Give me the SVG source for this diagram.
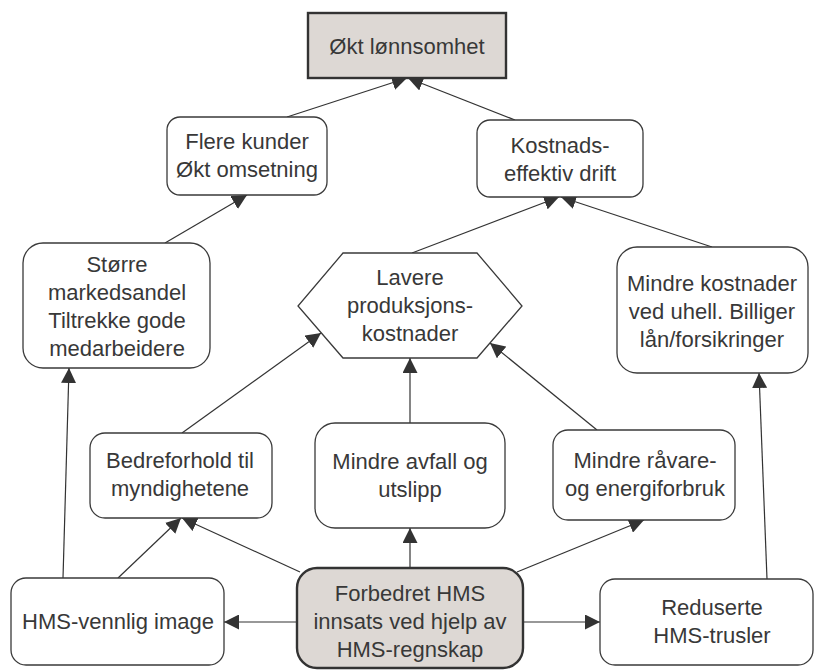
<svg xmlns="http://www.w3.org/2000/svg" width="815" height="670" viewBox="0 0 815 670">
  <style>
    .box { fill: #ffffff; stroke: #3a3a3a; stroke-width: 1.3; }
    .key { fill: #ddd8d4; stroke: #333333; stroke-width: 2.4; }
    .link { fill: none; stroke: #333333; stroke-width: 1.2; }
    .arrow { marker-end: url(#head); }
    text { font-family: "Liberation Sans", Arial, Helvetica, sans-serif; font-size: 22px; fill: #383838; text-anchor: middle; }
  </style>
  <defs>
    <marker id="head" viewBox="0 0 15 15" refX="15" refY="7.5" markerWidth="15" markerHeight="15" markerUnits="userSpaceOnUse" orient="auto">
      <path d="M0,0 L15,7.5 L0,15 z" fill="#333333"/>
    </marker>
  </defs>
  <rect width="815" height="670" fill="#ffffff"/>

  <!-- connectors (drawn first so the node outlines sit on top) -->
  <g id="connectors">
    <line class="link arrow" x1="287" y1="117" x2="407" y2="78"/>
    <line class="link arrow" x1="515" y1="120" x2="408" y2="78"/>
    <line class="link arrow" x1="165" y1="243" x2="247" y2="195"/>
    <line class="link arrow" x1="412" y1="253" x2="559" y2="197"/>
    <line class="link arrow" x1="712" y1="247" x2="561" y2="197"/>
    <line class="link arrow" x1="63" y1="578" x2="69" y2="368"/>
    <line class="link arrow" x1="182" y1="433" x2="321" y2="333"/>
    <line class="link arrow" x1="410" y1="423" x2="410" y2="358"/>
    <line class="link arrow" x1="597" y1="430" x2="490" y2="343"/>
    <line class="link arrow" x1="767" y1="579" x2="759" y2="373"/>
    <line class="link arrow" x1="118" y1="578" x2="181" y2="518"/>
    <line class="link arrow" x1="300" y1="572" x2="182" y2="518"/>
    <line class="link arrow" x1="410" y1="568" x2="410" y2="528"/>
    <line class="link arrow" x1="517" y1="572" x2="644" y2="520"/>
    <line class="link arrow" x1="297" y1="622" x2="224" y2="622"/>
    <line class="link arrow" x1="523" y1="622" x2="600" y2="622"/>
  </g>

  <g id="okt-lonnsomhet">
    <rect class="key" x="308" y="13" width="198" height="65"/>
    <text x="407" y="54">Økt lønnsomhet</text>
  </g>

  <g id="flere-kunder">
    <rect class="box" x="167" y="117" width="160" height="78" rx="13"/>
    <text x="247" y="149">Flere kunder</text>
    <text x="247" y="177">Økt omsetning</text>
  </g>

  <g id="kostnadseffektiv">
    <rect class="box" x="477" y="120" width="166" height="77" rx="13"/>
    <text x="560" y="153">Kostnads-</text>
    <text x="560" y="181">effektiv drift</text>
  </g>

  <g id="markedsandel">
    <rect class="box" x="23" y="243" width="187" height="125" rx="20"/>
    <text x="117" y="272">Større</text>
    <text x="117" y="300">markedsandel</text>
    <text x="117" y="328">Tiltrekke gode</text>
    <text x="117" y="356">medarbeidere</text>
  </g>

  <g id="produksjonskostnader">
    <polygon class="box" points="343,253 477,253 522,306 477,358 343,358 298,306"/>
    <text x="410" y="285">Lavere</text>
    <text x="410" y="313">produksjons-</text>
    <text x="410" y="341">kostnader</text>
  </g>

  <g id="uhellskostnader">
    <rect class="box" x="617" y="247" width="191" height="126" rx="20"/>
    <text x="712" y="291">Mindre kostnader</text>
    <text x="712" y="319">ved uhell. Billiger</text>
    <text x="712" y="347">lån/forsikringer</text>
  </g>

  <g id="myndighetene">
    <rect class="box" x="90" y="433" width="182" height="85" rx="15"/>
    <text x="180" y="468">Bedreforhold til</text>
    <text x="180" y="496">myndighetene</text>
  </g>

  <g id="avfall-utslipp">
    <rect class="box" x="315" y="423" width="190" height="105" rx="20"/>
    <text x="410" y="469">Mindre avfall og</text>
    <text x="410" y="497">utslipp</text>
  </g>

  <g id="ravare-energi">
    <rect class="box" x="553" y="430" width="182" height="90" rx="15"/>
    <text x="645" y="468">Mindre råvare-</text>
    <text x="645" y="496">og energiforbruk</text>
  </g>

  <g id="hms-image">
    <rect class="box" x="11" y="578" width="213" height="87" rx="15"/>
    <text x="118" y="629">HMS-vennlig image</text>
  </g>

  <g id="hms-regnskap">
    <rect class="key" x="297" y="568" width="226" height="100" rx="20"/>
    <text x="410" y="601">Forbedret HMS</text>
    <text x="410" y="629">innsats ved hjelp av</text>
    <text x="410" y="657">HMS-regnskap</text>
  </g>

  <g id="hms-trusler">
    <rect class="box" x="600" y="579" width="213" height="86" rx="15"/>
    <text x="712" y="615">Reduserte</text>
    <text x="712" y="643">HMS-trusler</text>
  </g>
</svg>
